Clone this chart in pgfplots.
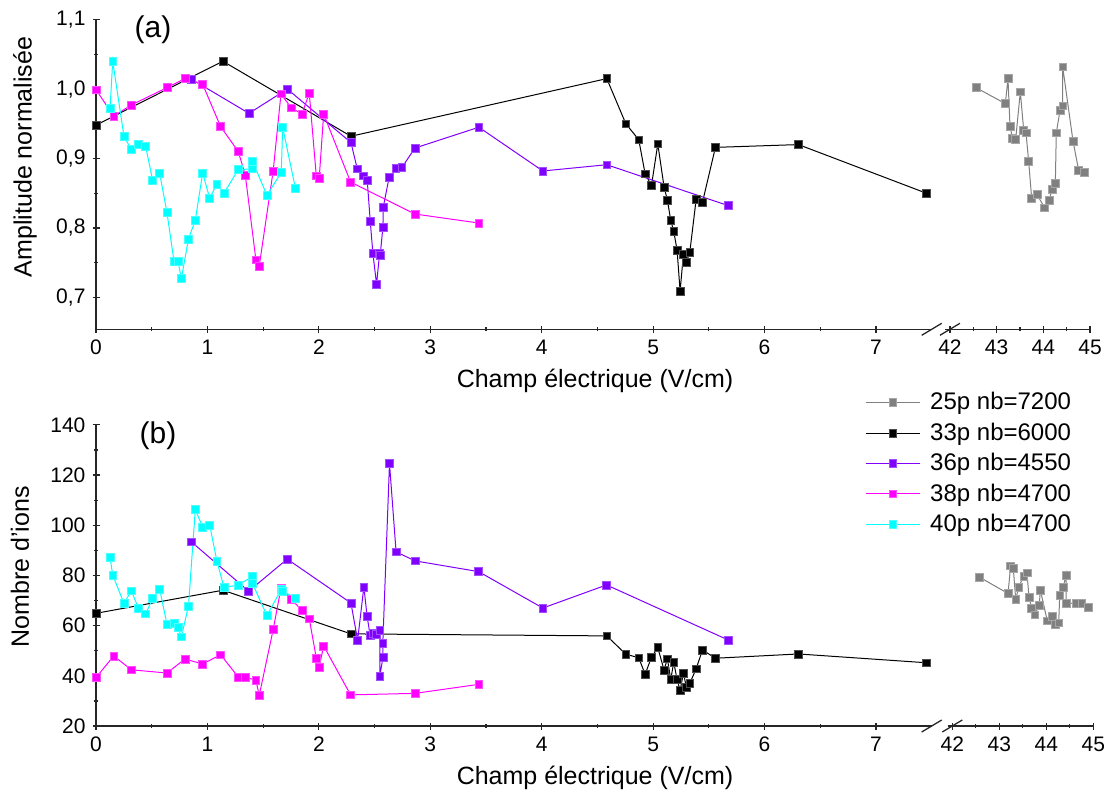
\documentclass[border=0pt]{standalone}
\usepackage{fontspec}
\setmainfont{Liberation Sans}
\usepackage{pgfplots}
\pgfplotsset{compat=1.18}
\definecolor{cgray}{RGB}{128,128,128}
\definecolor{cpurple}{RGB}{128,0,255}
\definecolor{cmag}{RGB}{255,0,255}
\definecolor{ccyan}{RGB}{0,255,255}
\pgfplotsset{
  every non boxed x axis/.append style={x axis line style={-}},
  every non boxed y axis/.append style={y axis line style={-}},
  brk/.style={scale only axis, clip=false,
    axis line style={black!85, line width=0.65pt, -},
    tick style={black!85, line width=0.6pt},
    tick align=outside, major tick length=3.5pt, minor tick length=2pt,
    ticklabel style={font=\fontsize{10.5}{12}\selectfont},
    /pgf/number format/assume math mode=true,
    axis x line=bottom},
  sty/.style={color=#1, line width=0.5pt, mark=square*, mark size=1.95pt,
    mark options={fill=#1, draw=#1!70!white, line width=0.3pt, solid}},
}
\begin{document}
\begin{tikzpicture}
\useasboundingbox (0,0) rectangle (557pt,399.5pt);
% ---------------- top left
\begin{axis}[brk, at={(48pt,234.85pt)}, anchor=south west,
  width=417.85pt, height=154.85pt,
  xmin=0, xmax=7.5, ymin=0.654, ymax=1.1,
  axis y line=left,
  xtick={0,1,...,7}, minor xtick={0.5,1.5,...,6.5},
  ytick={0.7,0.8,0.9,1.0,1.1}, minor ytick={0.65,0.75,0.85,0.95,1.05},
  yticklabel style={/pgf/number format/.cd, use comma, fixed, fixed zerofill, precision=1}]
\addplot[sty=black] coordinates {(0,0.948) (1.139,1.040) (2.288,0.932) (4.584,1.015) (4.755,0.950) (4.871,0.927) (4.928,0.878) (4.985,0.861) (5.042,0.921) (5.098,0.859) (5.128,0.840) (5.158,0.811) (5.185,0.795) (5.215,0.768) (5.242,0.709) (5.272,0.762) (5.299,0.751) (5.329,0.765) (5.386,0.841) (5.443,0.837) (5.559,0.916) (6.304,0.920) (7.452,0.850)};
\addplot[sty=cpurple] coordinates {(0.858,1.014) (1.373,0.965) (1.717,1.000) (2.288,0.923) (2.345,0.885) (2.400,0.875) (2.434,0.869) (2.461,0.810) (2.485,0.763) (2.518,0.719) (2.545,0.763) (2.550,0.760) (2.575,0.801) (2.578,0.830) (2.631,0.873) (2.691,0.886) (2.745,0.887) (2.862,0.915) (3.436,0.945) (4.010,0.882) (4.584,0.891) (5.676,0.832)};
\addplot[sty=cmag] coordinates {(0,0.999) (0.159,0.961) (0.317,0.977) (0.637,1.002) (0.798,1.015) (0.957,1.007) (1.118,0.946) (1.277,0.910) (1.340,0.876) (1.435,0.754) (1.465,0.745) (1.590,0.882) (1.660,0.993) (1.752,0.973) (1.848,0.964) (1.914,0.994) (1.977,0.875) (2.003,0.871) (2.043,0.964) (2.285,0.866) (2.862,0.820) (3.436,0.807)};
\addplot[sty=ccyan] coordinates {(0.126,0.972) (0.150,1.040) (0.251,0.932) (0.317,0.913) (0.380,0.920) (0.446,0.917) (0.508,0.869) (0.571,0.879) (0.637,0.822) (0.700,0.752) (0.736,0.752) (0.766,0.727) (0.830,0.784) (0.891,0.811) (0.957,0.879) (1.020,0.843) (1.085,0.863) (1.148,0.850) (1.277,0.884) (1.405,0.885) (1.405,0.896) (1.534,0.847) (1.663,0.880) (1.675,0.945) (1.790,0.857)};
\draw[black!85, line width=0.65pt] (rel axis cs:1,0) ++(-5pt,-3pt) -- ++(10pt,6pt);
\end{axis}
% ---------------- top right
\begin{axis}[brk, at={(472.65pt,234.85pt)}, anchor=south west,
  width=72.35pt, height=154.85pt,
  xmin=41.9, xmax=45, ymin=0.654, ymax=1.1,
  axis y line=none, ytick=\empty,
  xtick={42,43,44,45}, minor xtick={42.5,43.5,44.5}]
\addplot[sty=cgray] coordinates {(42.557,1.002) (43.186,0.979) (43.243,1.015) (43.286,0.946) (43.343,0.929) (43.408,0.928) (43.507,0.996) (43.579,0.941) (43.628,0.937) (43.686,0.896) (43.750,0.843) (43.864,0.848) (44.029,0.829) (44.128,0.840) (44.186,0.856) (44.257,0.864) (44.278,0.937) (44.357,0.969) (44.415,0.976) (44.415,1.032) (44.636,0.925) (44.757,0.883) (44.878,0.880)};
\draw[black!85, line width=0.65pt] (axis cs:42,0.654) ++(-5pt,-3pt) -- ++(10pt,6pt);
\end{axis}
% ---------------- bottom left
\begin{axis}[brk, at={(48pt,36.5pt)}, anchor=south west,
  width=417.85pt, height=150.6pt,
  xmin=0, xmax=7.5, ymin=20, ymax=140,
  axis y line=left,
  xtick={0,1,...,7}, minor xtick={0.5,1.5,...,6.5},
  ytick={20,40,...,140}, minor ytick={30,50,...,130},
  legend style={at={(0.92,1.122)}, anchor=north west, draw=none, fill=none,
    font=\fontsize{12}{14}\selectfont, inner sep=0pt, row sep=1pt,
    cells={anchor=west},
    /tikz/every odd column/.append style={column sep=3pt}},
  legend image code/.code={\draw[mark repeat=2,mark phase=2,#1] plot coordinates {(0pt,0pt) (13.5pt,0pt) (27pt,0pt)};}]
\addlegendimage{sty=cgray}\addlegendentry{25p nb=7200}
\addlegendimage{sty=black}\addlegendentry{33p nb=6000}
\addlegendimage{sty=cpurple}\addlegendentry{36p nb=4550}
\addlegendimage{sty=cmag}\addlegendentry{38p nb=4700}
\addlegendimage{sty=ccyan}\addlegendentry{40p nb=4700}
\addplot[sty=black, forget plot] coordinates {(0,64.9) (1.139,74.1) (2.288,56.7) (4.584,55.9) (4.755,48.6) (4.871,47.2) (4.928,40.6) (4.985,47.4) (5.042,51.2) (5.098,42.3) (5.128,46.8) (5.158,38.5) (5.185,45.4) (5.215,38.5) (5.242,34.2) (5.272,41.1) (5.299,35.3) (5.329,37.0) (5.386,42.8) (5.443,50.3) (5.559,47.0) (6.304,48.7) (7.452,45.2)};
\addplot[sty=cpurple, forget plot] coordinates {(0.855,93.4) (1.370,73.7) (1.716,86.5) (2.288,69.0) (2.348,54.2) (2.404,75.4) (2.433,63.7) (2.460,56.2) (2.487,57.0) (2.514,56.4) (2.547,58.0) (2.547,39.8) (2.576,47.5) (2.574,53.1) (2.634,124.6) (2.693,89.4) (2.862,85.8) (3.434,81.5) (4.010,67.0) (4.582,76.2) (5.672,54.3)};
\addplot[sty=cmag, forget plot] coordinates {(0,39.3) (0.159,47.9) (0.317,42.4) (0.637,41.1) (0.798,46.7) (0.957,44.7) (1.118,48.4) (1.277,39.5) (1.340,39.5) (1.435,38.2) (1.465,32.2) (1.590,58.4) (1.660,74.9) (1.752,70.6) (1.848,66.0) (1.914,62.7) (1.977,47.1) (2.003,43.5) (2.043,51.9) (2.285,32.4) (2.862,33.0) (3.436,36.6)};
\addplot[sty=ccyan, forget plot] coordinates {(0.126,87.1) (0.150,80.2) (0.251,68.8) (0.317,73.9) (0.380,67.0) (0.446,64.7) (0.508,70.8) (0.571,74.6) (0.637,60.5) (0.700,60.9) (0.736,59.4) (0.766,55.5) (0.830,67.8) (0.891,106.2) (0.957,99.3) (1.020,100.1) (1.085,85.7) (1.148,75.3) (1.277,76.1) (1.405,79.7) (1.405,76.7) (1.534,64.0) (1.663,74.5) (1.675,73.8) (1.790,70.9)};
\draw[black!85, line width=0.65pt] (rel axis cs:1,0) ++(-5pt,-3pt) -- ++(10pt,6pt);
\end{axis}
% ---------------- bottom right
\begin{axis}[brk, at={(473.8pt,36.5pt)}, anchor=south west,
  width=72.85pt, height=150.6pt,
  xmin=41.9, xmax=45, ymin=20, ymax=140,
  axis y line=none, ytick=\empty,
  xtick={42,43,44,45}, minor xtick={42.5,43.5,44.5}]
\addplot[sty=cgray] coordinates {(42.568,79.4) (43.185,72.8) (43.242,83.8) (43.298,82.7) (43.349,70.5) (43.413,75.3) (43.519,79.8) (43.589,81.0) (43.632,71.2) (43.689,67.0) (43.753,64.3) (43.851,68.1) (43.872,74.2) (44.021,61.9) (44.128,63.7) (44.191,60.6) (44.264,61.1) (44.285,72.1) (44.362,75.3) (44.419,80.2) (44.419,68.8) (44.632,69.0) (44.753,69.0) (44.887,67.4)};
\draw[black!85, line width=0.65pt] (axis cs:42,20) ++(-5pt,-3pt) -- ++(10pt,6pt);
\end{axis}
% ---------------- labels
\node[font=\fontsize{12.5}{14}\selectfont] at (297.5pt,209pt) {Champ électrique (V/cm)};
\node[font=\fontsize{12.5}{14}\selectfont] at (297.5pt,10.5pt) {Champ électrique (V/cm)};
\node[font=\fontsize{12.5}{14}\selectfont, rotate=90] at (12.5pt,321pt) {Amplitude normalisée};
\node[font=\fontsize{12.5}{14}\selectfont, rotate=90] at (10pt,116pt) {Nombre d'ions};
\node[font=\fontsize{15}{17}\selectfont] at (76.5pt,384.5pt) {(a)};
\node[font=\fontsize{15}{17}\selectfont] at (79pt,181.5pt) {(b)};
\end{tikzpicture}
\end{document}
